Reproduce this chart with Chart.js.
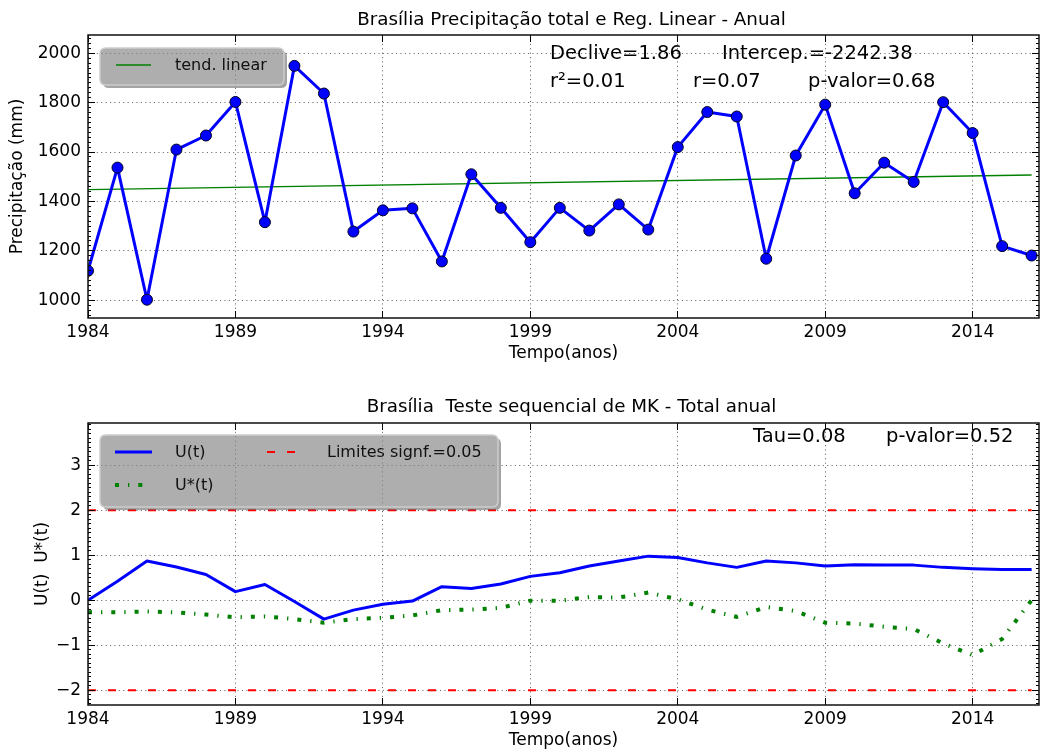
<!DOCTYPE html>
<html>
<head>
<meta charset="utf-8">
<script src="https://cdn.jsdelivr.net/npm/chart.js@4.4.0/dist/chart.umd.min.js"></script>
<style>
html,body{margin:0;padding:0;background:#fff;overflow:hidden;width:1040px;height:750px;}
#w1{position:absolute;left:0;top:0;width:1040px;height:375px;}
#w2{position:absolute;left:0;top:375px;width:1040px;height:390px;}
canvas{display:block;}
</style>
</head>
<body>
<div id="w1"><canvas id="c1" width="1040" height="375"></canvas></div>
<div id="w2"><canvas id="c2" width="1040" height="390"></canvas></div>
<script>
// ---------- data ----------
const years = [1984,1985,1986,1987,1988,1989,1990,1991,1992,1993,1994,1995,1996,1997,1998,1999,2000,
               2001,2002,2003,2004,2005,2006,2007,2008,2009,2010,2011,2012,2013,2014,2015,2016];
const precip = [1119,1537,1002,1610,1667,1803,1316,1949,1837,1278,1364,1372,1157,1510,1374,1235,1374,
                1282,1388,1286,1620,1762,1744,1168,1586,1792,1433,1557,1479,1802,1677,1219,1181];
const trendYears = [1984, 2016];
const trendValues = [1448, 1507];
const uT = [0.00,0.42,0.87,0.74,0.57,0.19,0.35,-0.03,-0.42,-0.22,-0.09,-0.02,0.30,0.26,0.36,0.53,0.61,
            0.76,0.87,0.98,0.95,0.83,0.73,0.87,0.83,0.76,0.79,0.78,0.78,0.73,0.70,0.68,0.68];
const uStar = [-0.27,-0.27,-0.25,-0.27,-0.32,-0.38,-0.36,-0.42,-0.50,-0.42,-0.39,-0.34,-0.22,-0.21,-0.17,-0.01,-0.01,
               0.07,0.06,0.17,0.02,-0.21,-0.37,-0.15,-0.24,-0.50,-0.52,-0.59,-0.64,-0.96,-1.22,-0.86,0.00];
const limitYears = [1984, 2016];
const limitUpper = [2, 2];
const limitLower = [-2, -2];
const xTicks = [1984,1989,1994,1999,2004,2009,2014];
const precipTicks = [1000,1200,1400,1600,1800,2000];
const uTicks = [-2,-1,0,1,2,3];
const topTitle = 'Brasília Precipitação total e Reg. Linear - Anual';
const bottomTitle = 'Brasília  Teste sequencial de MK - Total anual';
const topStats = ['Declive=1.86', 'Intercep.=-2242.38', 'r²=0.01', 'r=0.07', 'p-valor=0.68'];
const bottomStats = ['Tau=0.08', 'p-valor=0.52'];

const pts = (xs, ys) => xs.map((x, i) => ({x: x, y: ys[i]}));

Chart.defaults.font.family = "'DejaVu Sans', sans-serif";
Chart.defaults.color = '#000';
Chart.defaults.animation = false;

// ---------- plugins ----------
const framePlugin = {
  id: 'frame',
  afterDatasetsDraw(chart, args, opts) {
    const {ctx, chartArea: a, scales: {x, y}} = chart;
    const al = p => Math.round(p - 0.5) + 0.5;
    ctx.save();
    ctx.strokeStyle = '#000'; ctx.lineWidth = 1; ctx.setLineDash([]);
    ctx.beginPath();
    x.ticks.forEach(t => { const p = al(x.getPixelForValue(t.value));
      ctx.moveTo(p, a.bottom); ctx.lineTo(p, a.bottom - 7); ctx.moveTo(p, a.top); ctx.lineTo(p, a.top + 7); });
    y.ticks.forEach(t => { const p = al(y.getPixelForValue(t.value));
      ctx.moveTo(a.left, p); ctx.lineTo(a.left + 7, p); ctx.moveTo(a.right, p); ctx.lineTo(a.right - 7, p); });
    const st = opts.minorStep;
    const i0 = Math.ceil(y.min / st), i1 = Math.floor(y.max / st);
    for (let i = i0; i <= i1; i++) {
      const p = al(y.getPixelForValue(i * st));
      ctx.moveTo(a.left, p); ctx.lineTo(a.left + 3, p); ctx.moveTo(a.right, p); ctx.lineTo(a.right - 3, p);
    }
    ctx.stroke();
    ctx.lineWidth = 1.5; ctx.strokeStyle = '#111';
    ctx.strokeRect(a.left, a.top, a.right - a.left, a.bottom - a.top);
    ctx.restore();
  }
};

function rr(ctx, x, y, w, h, r) {
  ctx.moveTo(x + r, y); ctx.lineTo(x + w - r, y); ctx.quadraticCurveTo(x + w, y, x + w, y + r);
  ctx.lineTo(x + w, y + h - r); ctx.quadraticCurveTo(x + w, y + h, x + w - r, y + h);
  ctx.lineTo(x + r, y + h); ctx.quadraticCurveTo(x, y + h, x, y + h - r);
  ctx.lineTo(x, y + r); ctx.quadraticCurveTo(x, y, x + r, y); ctx.closePath();
}

const legendPlugin = {
  id: 'boxLegend',
  afterDraw(chart, args, opts) {
    const ctx = chart.ctx;
    const b = opts.box;
    ctx.save();
    ctx.beginPath(); ctx.rect(0, 0, chart.width, chart.height); rr(ctx, b.x, b.y, b.w, b.h, 6);
    ctx.clip('evenodd');
    ctx.beginPath(); rr(ctx, b.x + 3, b.y + 3, b.w, b.h, 6);
    ctx.fillStyle = 'rgba(90,90,90,0.55)'; ctx.fill();
    ctx.restore();
    ctx.save();
    ctx.beginPath(); rr(ctx, b.x, b.y, b.w, b.h, 6);
    ctx.fillStyle = 'rgba(135,135,135,0.68)'; ctx.fill();
    ctx.strokeStyle = 'rgba(205,205,205,1)'; ctx.lineWidth = 1.5; ctx.stroke();
    opts.items.forEach(it => {
      const ds = chart.data.datasets[it.ds];
      ctx.beginPath();
      ctx.strokeStyle = ds.borderColor; ctx.lineWidth = ds.borderWidth;
      ctx.setLineDash(ds.borderDash || []); ctx.lineCap = 'butt';
      ctx.moveTo(it.x1, it.y); ctx.lineTo(it.x2, it.y); ctx.stroke();
      ctx.setLineDash([]);
      ctx.fillStyle = '#111'; ctx.font = "16px 'DejaVu Sans'";
      ctx.textBaseline = 'middle'; ctx.textAlign = 'left';
      ctx.fillText(ds.label, it.tx, it.y + 1);
    });
    ctx.restore();
  }
};

const textPlugin = {
  id: 'statText',
  afterDraw(chart, args, opts) {
    const ctx = chart.ctx;
    const a = chart.chartArea;
    ctx.save();
    ctx.fillStyle = '#000';
    ctx.textBaseline = 'middle';
    // axes title
    ctx.font = "18.3px 'DejaVu Sans'"; ctx.textAlign = 'center';
    ctx.fillText(opts.title, (a.left + a.right) / 2 + opts.titleShift, opts.titleY);
    ctx.font = "19.5px 'DejaVu Sans'"; ctx.textAlign = 'left';
    opts.items.forEach(it => ctx.fillText(it.text, it.x, it.y));
    ctx.restore();
  }
};

const gridOpts = {color: 'rgba(0,0,0,0.6)', lineWidth: 1, drawTicks: false};
const borderOpts = {display: false, dash: [1.1, 3.3]};

function xScale(titlePadBottom, h) {
  return {
    type: 'linear', min: 1984, max: 2016.25,
    grid: gridOpts, border: borderOpts,
    afterBuildTicks: s => { s.ticks = xTicks.map(v => ({value: v})); },
    afterFit: s => { s.height = h; },
    ticks: {autoSkip: false, maxRotation: 0, padding: 4, font: {size: 17}, color: '#000',
            callback: v => String(v)},
    title: {display: true, text: 'Tempo(anos)', font: {size: 17}, color: '#000',
            padding: {top: 0, bottom: titlePadBottom}}
  };
}

// ---------- top chart ----------
const chartTop = new Chart(document.getElementById('c1'), {
  type: 'line',
  data: {datasets: [
    {label: 'Precipitação', data: pts(years, precip), borderColor: '#0000ff', backgroundColor: '#0000ff',
     borderWidth: 3, pointRadius: 5.5, pointBackgroundColor: '#0000ff', pointBorderColor: '#000022',
     pointBorderWidth: 1, tension: 0, clip: 0, borderJoinStyle: 'round'},
    {label: 'tend. linear', data: pts(trendYears, trendValues), borderColor: '#008000',
     borderWidth: 1.3, pointRadius: 0, tension: 0, clip: 0}
  ]},
  options: {
    responsive: false, animation: false,
    layout: {autoPadding: false, padding: {left: 0, right: 1, top: 35, bottom: 0}},
    scales: {
      x: xScale(10.8, 57),
      y: {
        type: 'linear', min: 928, max: 2074,
        grid: gridOpts, border: borderOpts,
        afterBuildTicks: s => { s.ticks = precipTicks.map(v => ({value: v})); },
        afterFit: s => { s.width = 88; },
        ticks: {padding: 7, font: {size: 17}, color: '#000', callback: v => String(v)},
        title: {display: true, text: 'Precipitação (mm)', font: {size: 17}, color: '#000',
                padding: {top: 7, bottom: 0}}
      }
    },
    plugins: {
      legend: {display: false},
      tooltip: {enabled: false},
      title: {display: false},
      frame: {minorStep: 20},
      boxLegend: {box: {x: 100, y: 48, w: 184, h: 37},
                  items: [{ds: 1, x1: 116, x2: 151, y: 65, tx: 175}]},
      statText: {title: topTitle, titleY: 20, titleShift: 8, items: [
        {text: topStats[0], x: 550, y: 54}, {text: topStats[1], x: 722, y: 54},
        {text: topStats[2], x: 550, y: 82}, {text: topStats[3], x: 693, y: 82},
        {text: topStats[4], x: 808, y: 82}]}
    }
  },
  plugins: [framePlugin, legendPlugin, textPlugin]
});

// ---------- bottom chart ----------
const chartBottom = new Chart(document.getElementById('c2'), {
  type: 'line',
  data: {datasets: [
    {label: 'U(t)', data: pts(years, uT), borderColor: '#0000ff', borderWidth: 3, pointRadius: 0,
     tension: 0, clip: 0, borderJoinStyle: 'round'},
    {label: 'U*(t)', data: pts(years, uStar), borderColor: '#008000', borderWidth: 4, pointRadius: 0,
     borderDash: [4, 9, 1.3, 9], tension: 0, clip: 0},
    {label: 'Limites signf.=0.05', data: pts(limitYears, limitUpper), borderColor: '#ff0000', borderWidth: 2,
     borderDash: [8, 12], pointRadius: 0, tension: 0, clip: 0},
    {label: 'Limites inferior', data: pts(limitYears, limitLower), borderColor: '#ff0000', borderWidth: 2,
     borderDash: [8, 12], pointRadius: 0, tension: 0, clip: 0}
  ]},
  options: {
    responsive: false, animation: false,
    layout: {autoPadding: false, padding: {left: 0, right: 1, top: 48, bottom: 0}},
    scales: {
      x: xScale(13.8, 60),
      y: {
        type: 'linear', min: -2.33, max: 3.94,
        grid: gridOpts, border: borderOpts,
        afterBuildTicks: s => { s.ticks = uTicks.map(v => ({value: v})); },
        afterFit: s => { s.width = 88; },
        ticks: {padding: 7, font: {size: 17}, color: '#000',
                callback: v => v < 0 ? '\u2212' + Math.abs(v) : String(v)},
        title: {display: true, text: 'U(t)  U*(t)', font: {size: 17}, color: '#000',
                padding: {top: 32.8, bottom: 0}}
      }
    },
    plugins: {
      legend: {display: false},
      tooltip: {enabled: false},
      title: {display: false},
      frame: {minorStep: 0.1},
      boxLegend: {box: {x: 100, y: 60, w: 398, h: 72},
                  items: [{ds: 0, x1: 115, x2: 152, y: 77, tx: 175},
                          {ds: 2, x1: 267, x2: 298, y: 77, tx: 327},
                          {ds: 1, x1: 115, x2: 143, y: 110, tx: 175}]},
      statText: {title: bottomTitle, titleY: 32, titleShift: 8, items: [
        {text: bottomStats[0], x: 753, y: 62}, {text: bottomStats[1], x: 886, y: 62}]}
    }
  },
  plugins: [framePlugin, legendPlugin, textPlugin]
});
</script>
</body>
</html>
